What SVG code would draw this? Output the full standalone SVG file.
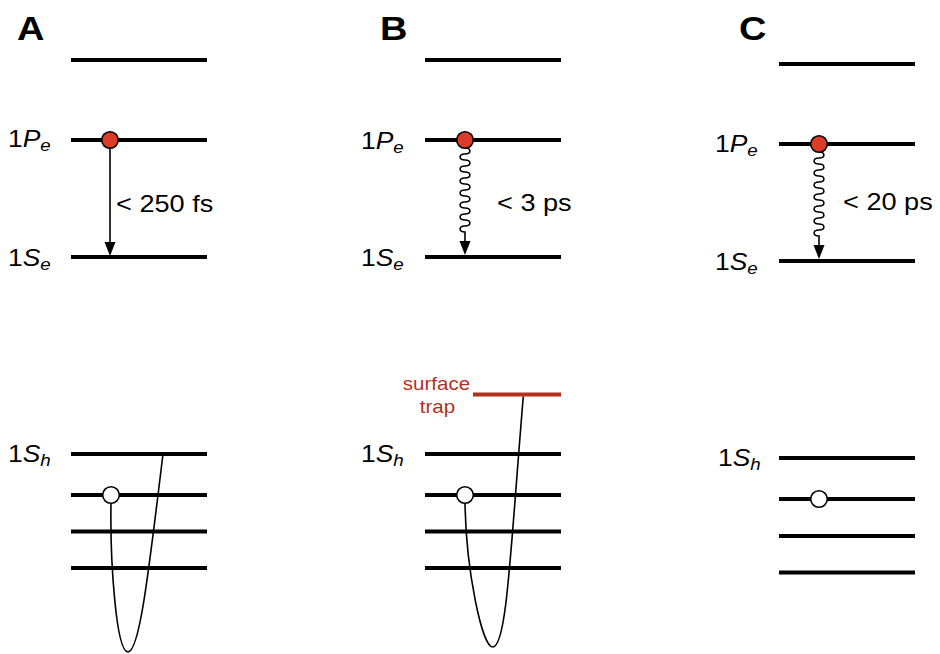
<svg xmlns="http://www.w3.org/2000/svg" width="940" height="654" viewBox="0 0 940 654">
  <style>
    .lvl { stroke: #000; stroke-width: 4; }
    .trap { stroke: #b3301f; stroke-width: 4; }
    .conn { fill: none; stroke: #000; stroke-width: 1.6; }
    .head { fill: #000; }
    .e { fill: #dd3b29; stroke: #000; stroke-width: 1.6; }
    .h { fill: #fff; stroke: #000; stroke-width: 1.6; }
    text { font-family: "Liberation Sans", Arial, Helvetica, sans-serif; fill: #000; }
    .panel { font-size: 33px; font-weight: bold; }
    .lab { font-size: 24px; }
    .it { font-style: italic; }
    .sub { font-size: 17px; font-style: italic; }
    .time { font-size: 23px; }
    .red { font-size: 18px; fill: #b3301f; }
  </style>
  <rect width="940" height="654" fill="#fff"/>

  <!-- panel letters -->
  <text class="panel" transform="translate(17,40) scale(1.15,1)">A</text>
  <text class="panel" transform="translate(380,40) scale(1.15,1)">B</text>
  <text class="panel" transform="translate(739,40) scale(1.15,1)">C</text>

  <!-- ===== Panel A ===== -->
  <g id="a-levels">
    <line class="lvl" x1="71" y1="60" x2="207" y2="60"/>
    <line class="lvl" x1="71" y1="140" x2="207" y2="140"/>
    <line class="lvl" x1="71" y1="257" x2="207" y2="257"/>
    <line class="lvl" x1="71" y1="454" x2="207" y2="454"/>
    <line class="lvl" x1="71" y1="495" x2="207" y2="495"/>
    <line class="lvl" x1="71" y1="531.5" x2="207" y2="531.5"/>
    <line class="lvl" x1="71" y1="568" x2="207" y2="568"/>
  </g>
  <g id="a-labels">
    <text class="lab" transform="translate(8,147) scale(1.1,1)">1<tspan class="it">P</tspan><tspan class="sub" dy="4">e</tspan></text>
    <text class="lab" transform="translate(8,266) scale(1.1,1)">1<tspan class="it">S</tspan><tspan class="sub" dy="4">e</tspan></text>
    <text class="lab" transform="translate(8,462) scale(1.1,1)">1<tspan class="it">S</tspan><tspan class="sub" dy="4">h</tspan></text>
    <text class="time" transform="translate(116,212) scale(1.18,1)">&lt; 250 fs</text>
  </g>
  <g id="a-connectors">
    <line class="conn" x1="110" y1="148" x2="110" y2="244"/>
    <polygon class="head" points="104.5,242 115.5,242 110,256"/>
    <path class="conn" d="M111,503 C110,560 116,652 128,652 C140,652 149.5,564 163,454"/>
  </g>
  <g id="a-carriers">
    <circle class="e" cx="110" cy="140" r="8.3"/>
    <circle class="h" cx="111" cy="495" r="8.3"/>
  </g>

  <!-- ===== Panel B ===== -->
  <g id="b-levels">
    <line class="lvl" x1="425" y1="60" x2="561" y2="60"/>
    <line class="lvl" x1="425" y1="140" x2="561" y2="140"/>
    <line class="lvl" x1="425" y1="257" x2="561" y2="257"/>
    <line class="trap" x1="473" y1="394.5" x2="561" y2="394.5"/>
    <line class="lvl" x1="425" y1="454" x2="561" y2="454"/>
    <line class="lvl" x1="425" y1="495" x2="561" y2="495"/>
    <line class="lvl" x1="425" y1="531.5" x2="561" y2="531.5"/>
    <line class="lvl" x1="425" y1="568" x2="561" y2="568"/>
  </g>
  <g id="b-labels">
    <text class="lab" transform="translate(361,149) scale(1.1,1)">1<tspan class="it">P</tspan><tspan class="sub" dy="4">e</tspan></text>
    <text class="lab" transform="translate(361,266) scale(1.1,1)">1<tspan class="it">S</tspan><tspan class="sub" dy="4">e</tspan></text>
    <text class="lab" transform="translate(361,462) scale(1.1,1)">1<tspan class="it">S</tspan><tspan class="sub" dy="4">h</tspan></text>
    <text class="time" transform="translate(497,211) scale(1.18,1)">&lt; 3 ps</text>
    <text class="red" text-anchor="middle" transform="translate(436.5,390) scale(1.14,1)">surface</text>
    <text class="red" text-anchor="middle" transform="translate(437.5,413) scale(1.14,1)">trap</text>
  </g>
  <g id="b-connectors">
    <path class="conn" d="M465,148 c6.5,0 6.5,6 0,6 s-6.5,6 0,6 s6.5,6 0,6 s-6.5,6 0,6 s6.5,6 0,6 s-6.5,6 0,6 s6.5,6 0,6 s-6.5,6 0,6 s6.5,6 0,6 s-6.5,6 0,6 s6.5,6 0,6 s-6.5,6 0,6 s6.5,6 0,6 s-6.5,6 0,6 L465,244"/>
    <polygon class="head" points="459.5,241 470.5,241 465,255"/>
    <path class="conn" d="M465,503 C466,570 482,647 492.7,647 C507,647 510.5,548 523.3,396.5"/>
  </g>
  <g id="b-carriers">
    <circle class="e" cx="465" cy="140" r="8.3"/>
    <circle class="h" cx="465" cy="495" r="8.3"/>
  </g>

  <!-- ===== Panel C ===== -->
  <g id="c-levels">
    <line class="lvl" x1="779" y1="64" x2="915" y2="64"/>
    <line class="lvl" x1="779" y1="144" x2="915" y2="144"/>
    <line class="lvl" x1="779" y1="261" x2="915" y2="261"/>
    <line class="lvl" x1="779" y1="458" x2="915" y2="458"/>
    <line class="lvl" x1="779" y1="499" x2="915" y2="499"/>
    <line class="lvl" x1="779" y1="536" x2="915" y2="536"/>
    <line class="lvl" x1="779" y1="572.5" x2="915" y2="572.5"/>
  </g>
  <g id="c-labels">
    <text class="lab" transform="translate(715,152) scale(1.1,1)">1<tspan class="it">P</tspan><tspan class="sub" dy="4">e</tspan></text>
    <text class="lab" transform="translate(715,270) scale(1.1,1)">1<tspan class="it">S</tspan><tspan class="sub" dy="4">e</tspan></text>
    <text class="lab" transform="translate(718,466) scale(1.1,1)">1<tspan class="it">S</tspan><tspan class="sub" dy="4">h</tspan></text>
    <text class="time" transform="translate(843,210) scale(1.18,1)">&lt; 20 ps</text>
  </g>
  <g id="c-connectors">
    <path class="conn" d="M819,152 c6.5,0 6.5,6 0,6 s-6.5,6 0,6 s6.5,6 0,6 s-6.5,6 0,6 s6.5,6 0,6 s-6.5,6 0,6 s6.5,6 0,6 s-6.5,6 0,6 s6.5,6 0,6 s-6.5,6 0,6 s6.5,6 0,6 s-6.5,6 0,6 s6.5,6 0,6 s-6.5,6 0,6 L819,247"/>
    <polygon class="head" points="813.5,245 824.5,245 819,259"/>
  </g>
  <g id="c-carriers">
    <circle class="e" cx="819" cy="144" r="8.3"/>
    <circle class="h" cx="819" cy="499" r="8.3"/>
  </g>
</svg>
